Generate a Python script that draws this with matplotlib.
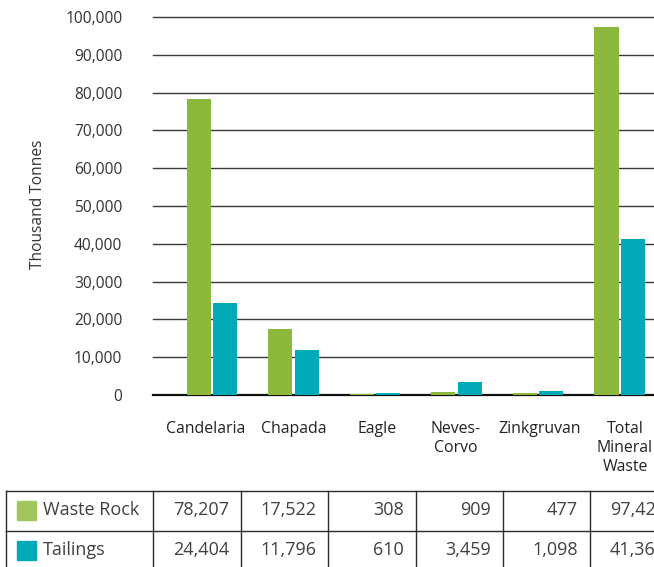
import matplotlib
matplotlib.use("Agg")
import matplotlib.pyplot as plt
from matplotlib.lines import Line2D
from matplotlib.patches import Rectangle
from matplotlib.transforms import ScaledTranslation

plt.rcParams['font.family'] = ['Open Sans', 'DejaVu Sans']

categories = ["Candelaria", "Chapada", "Eagle", "Neves-\nCorvo", "Zinkgruvan", "Total\nMineral\nWaste"]
series_names = ["Waste Rock", "Tailings"]
waste_rock = [78207, 17522, 308, 909, 477, 97423]
tailings = [24404, 11796, 610, 3459, 1098, 41367]
y_ticks = [0, 10000, 20000, 30000, 40000, 50000, 60000, 70000, 80000, 90000, 100000]

GREEN = "#8CB83B"
TEAL = "#00AAB6"
GREEN_L = "#A3C65C"
TEXT = "#333333"

W, H = 654, 567
fig = plt.figure(figsize=(W / 100, H / 100), dpi=100)

def fx(px):
    return px / W

def fy(py):
    return 1 - py / H

ax = fig.add_axes([fx(153), fy(395), fx(654) - fx(153), fy(17) - fy(395)])
x = list(range(len(categories)))
off = 0.16
bw = 0.295
ax.bar([i - off for i in x], waste_rock, width=bw, color=GREEN, zorder=3)
ax.bar([i + off for i in x], tailings, width=bw, color=TEAL, zorder=3)
ax.set_xlim(-0.724, 5.423)
ax.set_ylim(0, 100000)
ax.set_yticks(y_ticks)
ax.set_yticklabels([f"{v:,}" for v in y_ticks], fontsize=11.2, color=TEXT)
for v in y_ticks[1:]:
    ax.axhline(v, color="#3a3a3a", lw=1.0, zorder=1, clip_on=False)
ax.set_xticks(x)
ax.set_xticklabels(categories, fontsize=11.4, color="#222222", linespacing=1.25)
ax.tick_params(axis="both", length=0)
ax.tick_params(axis="y", pad=22)
ax.tick_params(axis="x", pad=19)
label_shift_px = [-6, 0.5, 2, -1, 2, 5.5]
for lab, dx in zip(ax.get_xticklabels(), label_shift_px):
    lab.set_transform(lab.get_transform() + ScaledTranslation(dx / 100, 0, fig.dpi_scale_trans))
for s in ["top", "left", "right"]:
    ax.spines[s].set_visible(False)
ax.spines["bottom"].set_color("#111111")
ax.spines["bottom"].set_linewidth(1.6)
fig.text(fx(38), fy(204), "Thousand Tonnes", rotation=90, ha="center", va="center",
         fontsize=11.2, color=TEXT)

# table
col_x = [6, 153, 241, 328, 416, 503, 590, 678]
row_y = [491, 531, 571]
lc = "#2b2b2b"
for yy in row_y:
    fig.add_artist(Line2D([fx(col_x[0]), fx(col_x[-1])], [fy(yy), fy(yy)], color=lc, lw=1.0))
for xx in col_x:
    fig.add_artist(Line2D([fx(xx), fx(xx)], [fy(row_y[0]), fy(row_y[-1])], color=lc, lw=1.0))

rows = [waste_rock, tailings]
sq_colors = [GREEN_L, TEAL]
for r, (name, vals) in enumerate(zip(series_names, rows)):
    yc = (row_y[r] + row_y[r + 1]) / 2 - 1
    fig.add_artist(Rectangle((fx(17), fy(yc + 9.5)), fx(19), 19 / H, color=sq_colors[r],
                             transform=fig.transFigure))
    fig.text(fx(43), fy(yc), name, ha="left", va="center", fontsize=13, color="#404040")
    for c, v in enumerate(vals):
        fig.text(fx(col_x[c + 2] - 12), fy(yc), f"{v:,}", ha="right", va="center",
                 fontsize=13, color="#404040")

fig.savefig("out.png", dpi=100)
